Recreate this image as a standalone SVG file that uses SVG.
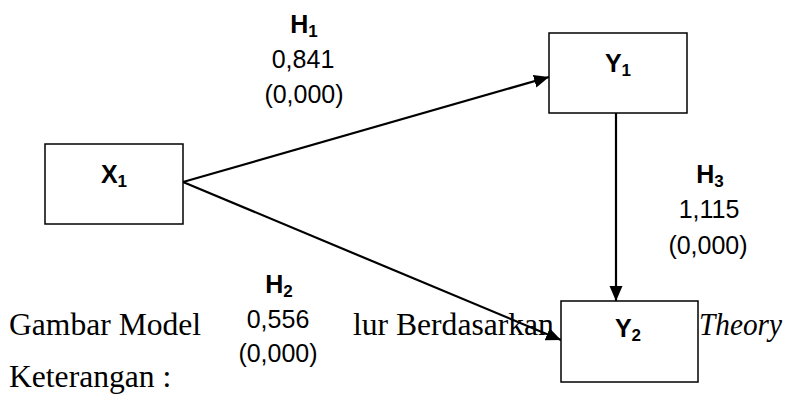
<svg xmlns="http://www.w3.org/2000/svg" width="787" height="396" viewBox="0 0 787 396">
<defs>
<style>
.box{fill:#fff;stroke:#000;stroke-width:1.5}
.lbl{font-family:"Liberation Sans",Arial,sans-serif;font-size:25px;fill:#000}
.b{font-weight:bold}
.sub{font-size:17px}
.body{font-family:"Liberation Serif","Times New Roman",serif;font-size:31.6px;fill:#000}
.edge{stroke:#000;stroke-width:2.2;fill:none;marker-end:url(#ah)}
</style>
<marker id="ah" markerUnits="userSpaceOnUse" markerWidth="16" markerHeight="14" refX="15" refY="6.5" orient="auto">
<path d="M0,0 L15,6.5 L0,13 Z" fill="#000"/>
</marker>
</defs>
<g id="caption">
<text class="body" x="9" y="335">Gambar Model</text>
<text class="body" x="353" y="335">lur Berdasarkan</text>
<text class="body" x="699" y="335" font-style="italic" textLength="83" lengthAdjust="spacingAndGlyphs">Theory</text>
<text class="body" x="9" y="387">Keterangan :</text>
</g>
<g id="connectors">
<line class="edge" x1="183" y1="182" x2="549" y2="77"/>
<line class="edge" x1="183" y1="182" x2="561" y2="340"/>
<line class="edge" x1="616" y1="113" x2="616" y2="301"/>
</g>
<g id="X1">
<rect class="box" x="45" y="144" width="138" height="80"/>
<text class="lbl b" x="114" y="183" text-anchor="middle">X<tspan class="sub" dy="4">1</tspan></text>
</g>
<g id="Y1">
<rect class="box" x="549" y="33" width="138" height="80"/>
<text class="lbl b" x="618" y="72" text-anchor="middle">Y<tspan class="sub" dy="4">1</tspan></text>
</g>
<g id="Y2">
<rect class="box" x="561" y="301" width="137" height="81"/>
<text class="lbl b" x="628" y="337" text-anchor="middle">Y<tspan class="sub" dy="4">2</tspan></text>
</g>
<g id="H1">
<text class="lbl b" x="304" y="33" text-anchor="middle">H<tspan class="sub" dy="4">1</tspan></text>
<text class="lbl" x="303" y="68" text-anchor="middle">0,841</text>
<text class="lbl" x="304" y="103" text-anchor="middle">(0,000)</text>
</g>
<g id="H2">
<text class="lbl b" x="279" y="293" text-anchor="middle">H<tspan class="sub" dy="4">2</tspan></text>
<text class="lbl" x="278" y="328" text-anchor="middle">0,556</text>
<text class="lbl" x="278" y="362" text-anchor="middle">(0,000)</text>
</g>
<g id="H3">
<text class="lbl b" x="710" y="183" text-anchor="middle">H<tspan class="sub" dy="4">3</tspan></text>
<text class="lbl" x="709" y="218" text-anchor="middle">1,115</text>
<text class="lbl" x="708" y="254" text-anchor="middle">(0,000)</text>
</g>
</svg>
